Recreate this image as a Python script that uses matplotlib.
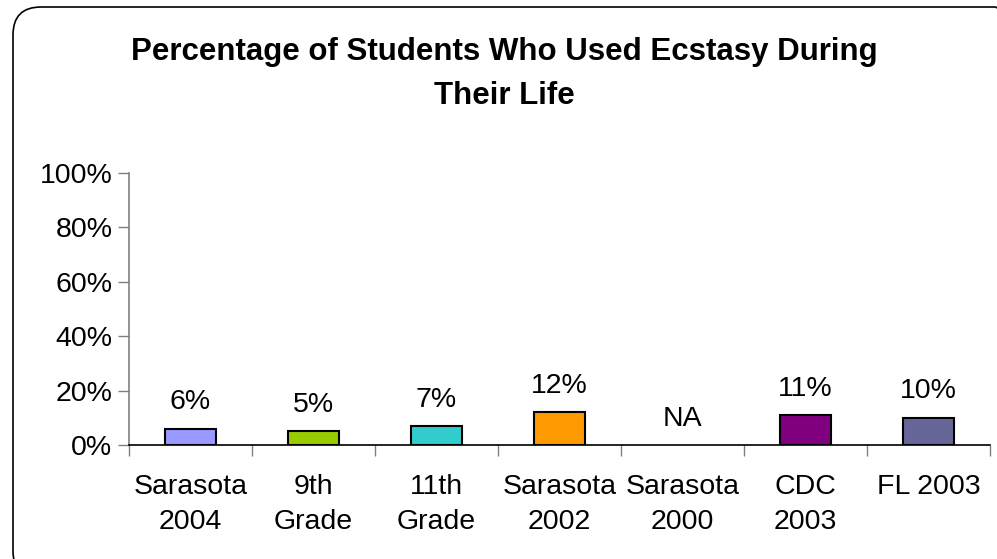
import matplotlib
matplotlib.use("Agg")
import matplotlib.pyplot as plt
import matplotlib.patches as mpatches
from matplotlib.ticker import PercentFormatter
import numpy as np

plt.rcParams['font.family'] = ['Liberation Sans', 'DejaVu Sans']

categories = ["Sarasota\n2004", "9th\nGrade", "11th\nGrade", "Sarasota\n2002",
              "Sarasota\n2000", "CDC\n2003", "FL 2003"]
values = [6, 5, 7, 12, None, 11, 10]
colors = ["#9999FF", "#99CC00", "#33CCCC", "#FF9900", "#FFFFFF", "#800080", "#666699"]

fig = plt.figure(figsize=(9.97, 5.59), dpi=100)
ax = fig.add_axes([129 / 997, 1 - 445 / 559, (990 - 129) / 997, (445 - 173) / 559])

x = np.arange(len(categories))
for i, v in enumerate(values):
    if v is not None:
        ax.bar(x[i], v / 100, width=0.41, color=colors[i], edgecolor="black", linewidth=1.5, zorder=3)
        label = f"{v}%"
        h = v / 100
    else:
        label = "NA"
        h = 0
    ax.annotate(label, (x[i], h), xytext=(0, 19), textcoords="offset points",
                ha="center", va="center", fontsize=20.5)

ax.set_xlim(-0.5, len(categories) - 0.5)
ax.set_ylim(0, 1)
ax.set_yticks(np.arange(0, 1.01, 0.2))
ax.yaxis.set_major_formatter(PercentFormatter(1.0, decimals=0))
ax.set_xticks(x)
ax.set_xticklabels(categories, fontsize=20.5, linespacing=1.45)
ax.set_xticks(np.arange(-0.5, len(categories)), minor=True)
ax.tick_params(axis="x", which="major", length=0, pad=21)
ax.tick_params(axis="x", which="minor", length=8, width=1, color="#808080", direction="out")
ax.tick_params(axis="y", length=8, width=1, color="#808080", labelsize=20.5, pad=4)

for s in ["top", "right"]:
    ax.spines[s].set_visible(False)
ax.spines["left"].set_color("#808080")
ax.spines["left"].set_linewidth(1.2)
ax.spines["bottom"].set_color("black")
ax.spines["bottom"].set_linewidth(1.2)

fig.text(504 / 997, 1 - 74 / 559, "Percentage of Students Who Used Ecstasy During\nTheir Life",
         ha="center", va="center", fontsize=22.5, fontweight="bold", linespacing=1.62)

border = mpatches.FancyBboxPatch((13, -20), 1010, 559 - 7 + 20,
                                 boxstyle="round,pad=0,rounding_size=28",
                                 transform=None, fill=False, edgecolor="black", linewidth=1.2)
fig.patches.append(border)

fig.savefig("out.png", dpi=100)
